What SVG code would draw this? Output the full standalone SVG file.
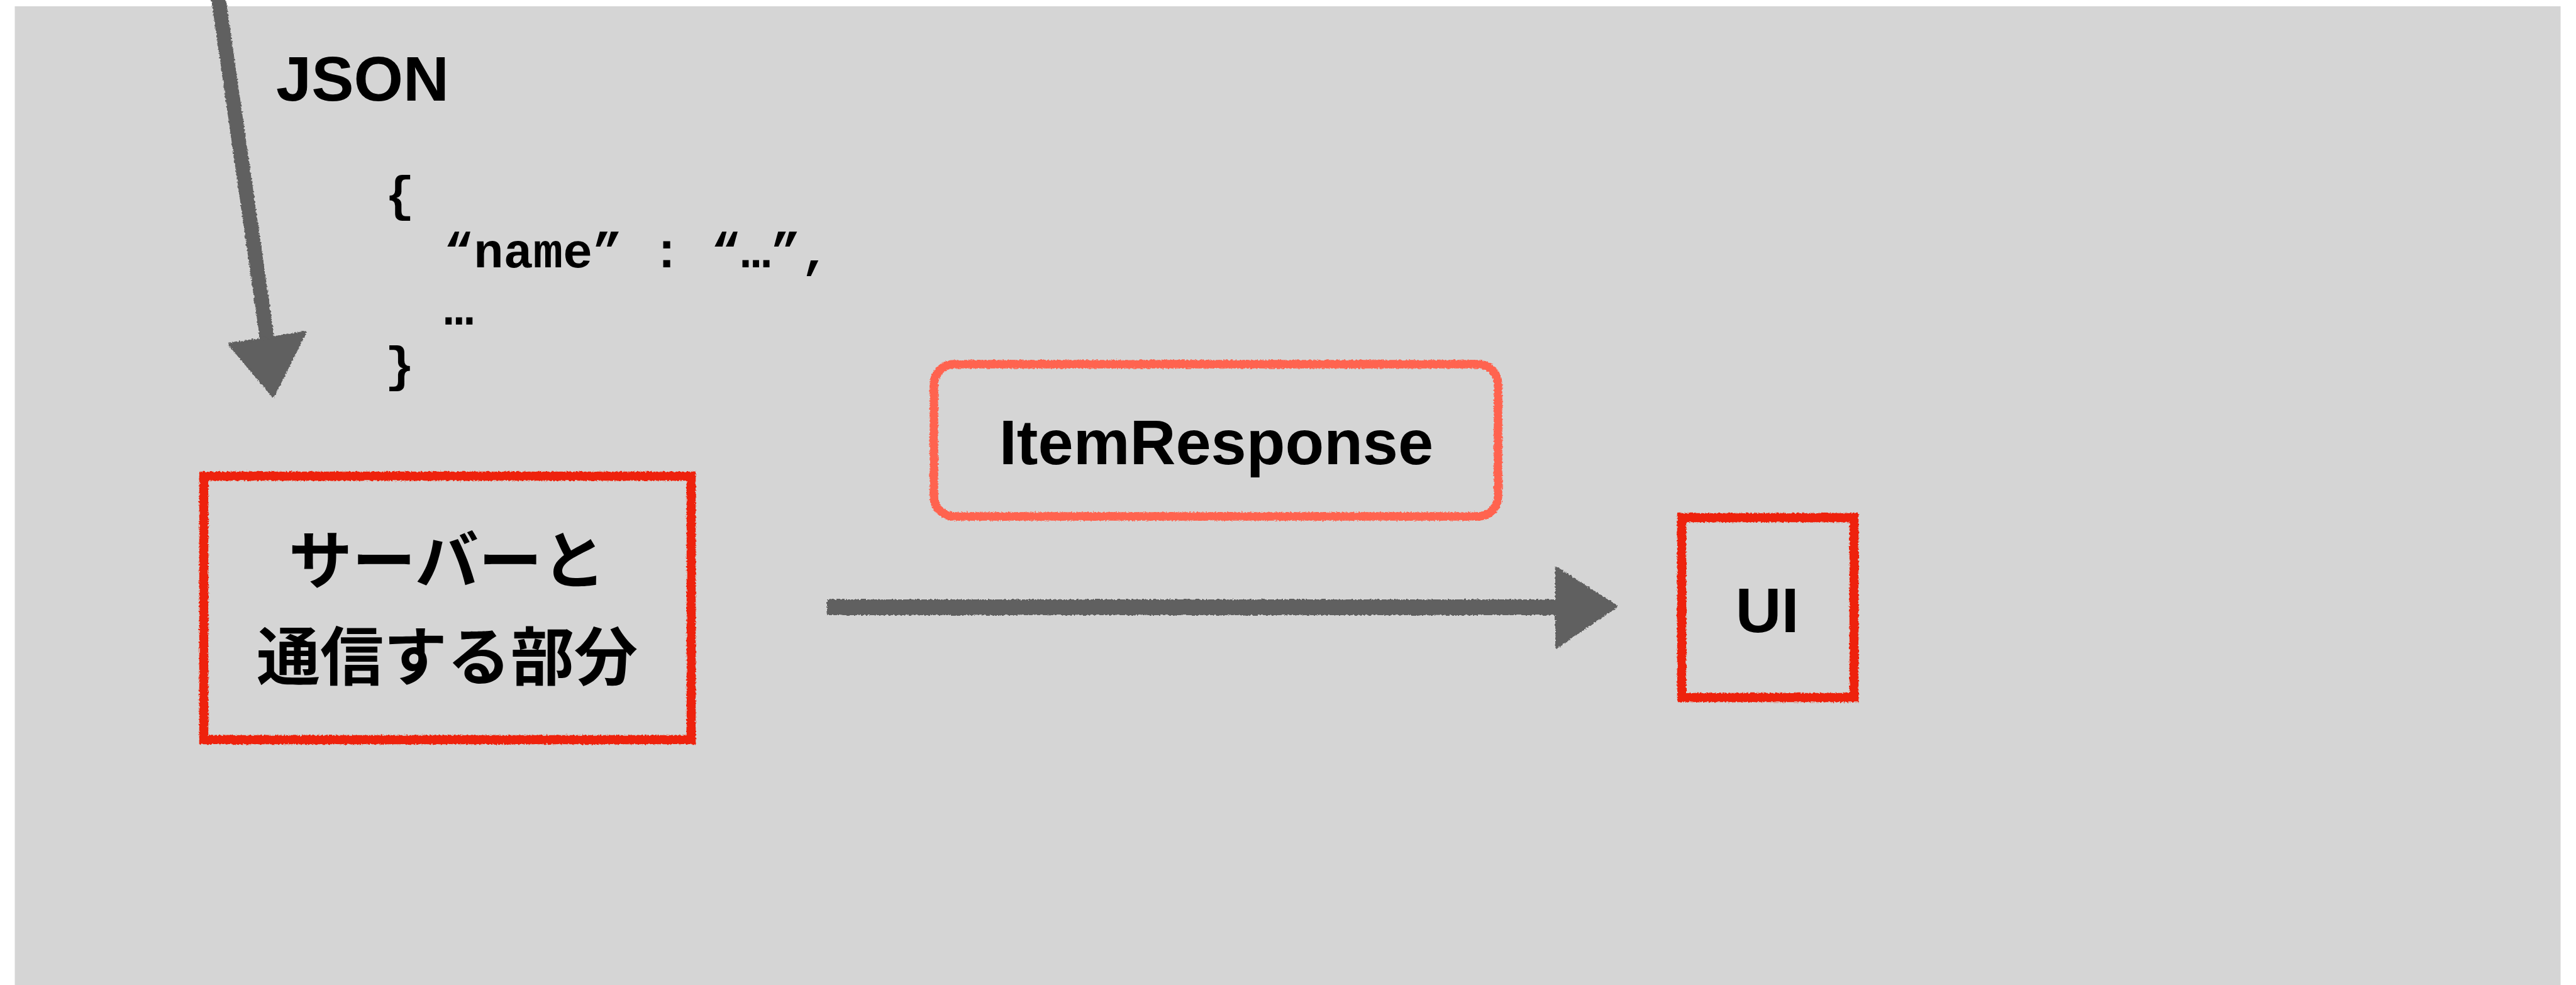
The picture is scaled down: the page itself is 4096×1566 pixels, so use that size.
<svg xmlns="http://www.w3.org/2000/svg" width="4096" height="1566" viewBox="0 0 4096 1566">
  <style>
    .lbl { font-family: "Liberation Sans", Arial, sans-serif; font-weight: bold; font-size: 101px; fill: #000; }
    .cjk { font-family: "Liberation Sans", "Noto Sans CJK JP", sans-serif; font-weight: bold; font-size: 101px; fill: #000; }
    .code { font-family: "Liberation Mono", "Courier New", monospace; font-weight: bold; font-size: 78.7px; fill: #000; }
    .box-red { fill: none; stroke: #EE2211; stroke-width: 14.5; }
    .box-coral { fill: none; stroke: #FF6450; stroke-width: 13.5; }
    .shaft { fill: none; stroke: #606060; stroke-linecap: butt; }
    .head { fill: #606060; stroke: #606060; stroke-width: 4; stroke-linejoin: round; }
  </style>
  <defs>
    <filter id="rough" x="-5%" y="-5%" width="110%" height="110%">
      <feTurbulence type="fractalNoise" baseFrequency="0.35" numOctaves="2" seed="3" result="n"/>
      <feDisplacementMap in="SourceGraphic" in2="n" scale="5" xChannelSelector="R" yChannelSelector="G"/>
    </filter>
  </defs>
  <rect id="background" x="23.5" y="10" width="4048" height="1560" fill="#D5D5D5"/>

  <g id="connectors" filter="url(#rough)">
    <g id="arrow-json">
      <line class="shaft" x1="347" y1="-5" x2="425" y2="540" stroke-width="23"/>
      <polygon class="head" points="364.7,547.5 485.1,528.5 434.4,629.9"/>
    </g>
    <g id="arrow-itemresponse">
      <line class="shaft" x1="1315" y1="965.6" x2="2480" y2="965.6" stroke-width="25"/>
      <polygon class="head" points="2475,903 2570,964 2475,1029"/>
    </g>
  </g>

  <g id="label-json">
    <text class="lbl" x="439" y="160">JSON</text>
    <text class="code" x="612" y="335">{</text>
    <text class="code" x="706" y="425">“name” : “…”,</text>
    <text class="code" x="706" y="516">…</text>
    <text class="code" x="612" y="606">}</text>
  </g>

  <g id="node-server">
    <rect class="box-red" x="324" y="757" width="775" height="419" filter="url(#rough)"/>
    <text class="cjk" x="711" y="927.6" text-anchor="middle">サーバーと</text>
    <text class="cjk" x="711" y="1080.6" text-anchor="middle">通信する部分</text>
  </g>

  <g id="node-itemresponse">
    <rect class="box-coral" x="1485" y="579" width="897" height="242" rx="32" ry="32" filter="url(#rough)"/>
    <text class="lbl" x="1934" y="737.6" text-anchor="middle">ItemResponse</text>
  </g>

  <g id="node-ui">
    <rect class="box-red" x="2674" y="823" width="274" height="286" filter="url(#rough)"/>
    <text class="lbl" x="2810" y="1004.6" text-anchor="middle">UI</text>
  </g>
</svg>
